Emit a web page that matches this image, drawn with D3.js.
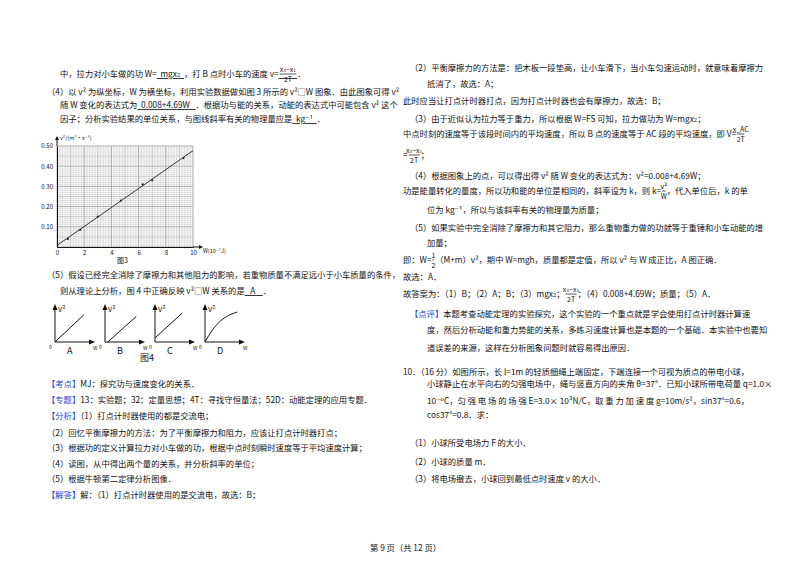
<!DOCTYPE html>
<html><head><meta charset="utf-8">
<script src="https://cdn.jsdelivr.net/npm/d3@7"></script>
<style>
body{margin:0;background:#fff}
text{font-family:"Noto Sans CJK SC","DejaVu Serif",serif;font-size:8.3px;fill:#111;white-space:pre}
.u{text-decoration:underline}
.b{fill:#1f3fd0}
</style></head><body>
<svg id="page" width="800" height="565"></svg>
<script>
// 图3 数据点 (W, v^2)
var wVals=[0.8,1.7,3.0,4.7,6.3,7.0,9.3];
var v2Vals=[0.04,0.085,0.15,0.23,0.31,0.33,0.44];
var fitLine=[[0,0.008],[10,0.477]];
var xTicks=[0,2,4,6,8,10];
var yTicks=[0.1,0.2,0.3,0.4,0.5];
var figLabels=['A','B','C','D'];

var svg=d3.select('#page');
var F1=['x₃−x₁','2T'];
// 文本行: [x, y, 片段]  片段 [text, class, 分式]
var lines=[
 [60,77,[['中，拉力对小车做的功 W='],['  mgx₂  ','u'],['，打 B 点时小车的速度 v='],['          ','u',F1],['．']]],
 [47,95,[['（4）以 v² 为纵坐标，W 为横坐标，利用实验数据做如图 3 所示的 v²□W 图象．由此图象可得 v²']]],
 [60,108,[['随 W 变化的表达式为'],['  0.008+4.69W   ','u'],['．根据功与能的关系，动能的表达式中可能包含 v² 这个']]],
 [60,122,[['因子；分析实验结果的单位关系，与图线斜率有关的物理量应是'],['  kg⁻¹  ','u'],['．']]],
 [47,278,[['（5）假设已经完全消除了摩擦力和其他阻力的影响，若重物质量不满足远小于小车质量的条件，']]],
 [60,294,[['则从理论上分析，图 4 中正确反映 v²□W 关系的是'],['   A    ','u'],['．']]],
 [47,387,[['【考点】','b'],['MJ：探究功与速度变化的关系．']]],
 [47,403,[['【专题】','b'],['13：实验题；32：定量思想；4T：寻找守恒量法；52D：动能定理的应用专题．']]],
 [47,419,[['【分析】','b'],['（1）打点计时器使用的都是交流电；']]],
 [47,436,[['（2）回忆平衡摩擦力的方法：为了平衡摩擦力和阻力，应该让打点计时器打点；']]],
 [47,451,[['（3）根据功的定义计算拉力对小车做的功，根据中点时刻瞬时速度等于平均速度计算；']]],
 [47,467,[['（4）读图，从中得出两个量的关系，并分析斜率的单位；']]],
 [47,482,[['（5）根据牛顿第二定律分析图像．']]],
 [47,498,[['【解答】','b'],['解：（1）打点计时器使用的是交流电，故选：B；']]],
 [410,71,[['（2）平衡摩擦力的方法是：把木板一段垫高，让小车滑下，当小车匀速运动时，就意味着摩擦力']]],
 [427,87,[['抵消了，故选：A；']]],
 [403,104,[['此时应当让打点计时器打点，因为打点计时器也会有摩擦力，故选：B；']]],
 [410,122,[['（3）由于近似认为拉力等于重力，所以根据 W=FS 可知，拉力做功为 W=mgx₂；']]],
 [403,137,[['中点时刻的速度等于该段时间内的平均速度，所以 B 点的速度等于 AC 段的平均速度，即 V='],['     ',null,['x_AC','2T']]]],
 [403,158,[['='],['       ',null,F1],['；']]],
 [410,179,[['（4）根据图象上的点，可以得出得 v² 随 W 变化的表达式为：v²=0.008+4.69W；']]],
 [403,194,[['功是能量转化的量度，所以功和能的单位是相同的，斜率设为 k，则 k='],['   ',null,['v²','W']],['，代入单位后，k 的单']]],
 [427,213,[['位为 kg⁻¹，所以与该斜率有关的物理量为质量；']]],
 [410,231,[['（5）如果实验中完全消除了摩擦力和其它阻力，那么重物重力做的功就等于重锤和小车动能的增']]],
 [427,246,[['加量；']]],
 [403,263,[['即：W='],['  ',null,['1','2']],['（M+m）v²，期中 W=mgh，质量都是定值，所以 v² 与 W 成正比，A 图正确．']]],
 [403,280,[['故选：A．']]],
 [403,297,[['故答案为：（1）B；（2）A；B；（3）mgx₂；'],['       ',null,F1],['；（4）0.008+4.69W；质量；（5）A．']]],
 [410,317,[['【点评】','b'],['本题考查动能定理的实验探究，这个实验的一个重点就是学会使用打点计时器计算速']]],
 [427,333,[['度，然后分析动能和重力势能的关系，多练习速度计算也是本题的一个基础．本实验中也要知']]],
 [427,351,[['道误差的来源，这样在分析图象问题时就容易得出原因．']]],
 [403,375,[['10．（16 分）如图所示，长 l=1m 的轻质细绳上端固定，下端连接一个可视为质点的带电小球，']]],
 [427,387,[['小球静止在水平向右的匀强电场中，绳与竖直方向的夹角 θ=37°．已知小球所带电荷量 q=1.0×']]],
 [427,404,[['10⁻⁶C，匀 强 电 场 的 场 强 E=3.0× 10³N/C，取 重 力 加 速 度 g=10m/s²，sin37°=0.6，']]],
 [427,418,[['cos37°=0.8．求：']]],
 [410,446,[['（1）小球所受电场力 F 的大小．']]],
 [410,465,[['（2）小球的质量 m．']]],
 [410,482,[['（3）将电场撤去，小球回到最低点时速度 v 的大小．']]],
 [370,551,[['第 9 页（共 12 页）']]]
];
// 分式
function frac(x,y,top,bot,w){
  svg.append('text').attr('x',x+w/2).attr('y',y-2).attr('text-anchor','middle').style('font-size','7px').text(top);
  svg.append('line').attr('x1',x).attr('x2',x+w).attr('y1',y).attr('y2',y).attr('stroke','#111').attr('stroke-width',0.7);
  svg.append('text').attr('x',x+w/2).attr('y',y+8).attr('text-anchor','middle').style('font-size','7px').text(bot);
}
lines.forEach(function(l){
  var t=svg.append('text').attr('x',l[0]).attr('y',l[1]);
  l[2].forEach(function(s){
    var sp=t.append('tspan').attr('class',s[1]||null).text(s[0]);
    if(s[2]){
      var n=sp.node(), x0=n.getStartPositionOfChar(0).x, w=n.getComputedTextLength();
      frac(x0+1,l[1]-3,s[2][0],s[2][1],w-2);
    }
  });
});

// 图3
var g=svg.append('g');
var x=d3.scaleLinear().domain([0,10]).range([57,193]);
var y=d3.scaleLinear().domain([0,0.5]).range([247,146]);
var minor=d3.range(0,51), minorY=d3.range(0,51);
g.selectAll('.mx').data(minor).enter().append('line').attr('x1',function(d){return x(d/5);}).attr('x2',function(d){return x(d/5);})
 .attr('y1',y(0)).attr('y2',y(0.5))
 .attr('stroke','#999').attr('stroke-width',function(d){return d%10==0?0.8:(d%5==0?0.5:0.25);});
g.selectAll('.my').data(minorY).enter().append('line').attr('y1',function(d){return y(d/100);}).attr('y2',function(d){return y(d/100);})
 .attr('x1',x(0)).attr('x2',x(10))
 .attr('stroke','#999').attr('stroke-width',function(d){return d%10==0?0.8:(d%5==0?0.5:0.25);});
g.append('g').attr('transform','translate(0,'+y(0)+')').call(d3.axisBottom(x).tickValues(xTicks).tickSize(0).tickPadding(4))
 .call(function(a){a.select('.domain').attr('stroke','#111');a.selectAll('text').style('font-size','6px');});
g.append('g').attr('transform','translate('+x(0)+',0)').call(d3.axisLeft(y).tickValues(yTicks).tickSize(0).tickPadding(4))
 .call(function(a){a.select('.domain').attr('stroke','#111');a.selectAll('text').style('font-size','6px');});
g.append('line').attr('x1',x(10)).attr('x2',x(10)+8).attr('y1',y(0)).attr('y2',y(0)).attr('stroke','#111');
g.append('path').attr('d','M'+(x(10)+10)+','+y(0)+'l-4,-2v4z').attr('fill','#111');
g.append('line').attr('x1',x(0)).attr('x2',x(0)).attr('y1',y(0.5)).attr('y2',y(0.5)-8).attr('stroke','#111');
g.append('path').attr('d','M'+x(0)+','+(y(0.5)-10)+'l-2,4h4z').attr('fill','#111');
g.append('text').attr('x',x(10)+10).attr('y',y(0)+6).style('font-size','5.5px').text('W(10⁻¹J)');
g.append('text').attr('x',x(0)+3).attr('y',y(0.5)-6).style('font-size','5.5px').text('v²/(m²·s⁻²)');
g.append('path').datum(fitLine).attr('d',d3.line().x(function(d){return x(d[0]);}).y(function(d){return y(d[1]);}))
 .attr('stroke','#222').attr('stroke-width',0.9).attr('fill','none');
g.selectAll('.pt').data(wVals).enter().append('circle').attr('cx',function(d){return x(d);}).attr('cy',function(d,i){return y(v2Vals[i]);})
 .attr('r',1.1).attr('fill','#222');
g.append('text').attr('x',117).attr('y',263).style('font-size','7px').text('图3');

// 图4
var fx=d3.scaleLinear().domain([0,1]).range([0,34]);
var fy=d3.scaleLinear().domain([0,1]).range([0,-34]);
figLabels.forEach(function(lab,i){
  var ox=55+i*50, oy=342;
  var f=svg.append('g').attr('transform','translate('+ox+','+oy+')');
  f.append('line').attr('x1',0).attr('x2',36).attr('y1',0).attr('y2',0).attr('stroke','#111');
  f.append('path').attr('d','M40,0l-6,-2.5v5z').attr('fill','#111');
  f.append('line').attr('x1',0).attr('x2',0).attr('y1',0).attr('y2',-34).attr('stroke','#111');
  f.append('path').attr('d','M0,-38l-2.5,6h5z').attr('fill','#111');
  f.append('text').attr('x',3).attr('y',-30).style('font-size','8px').text('v²');
  f.append('text').attr('x',-6).attr('y',7).style('font-size','5px').text('0');
  f.append('text').attr('x',38).attr('y',8).style('font-size','5px').text('W');
  f.append('text').attr('x',12).attr('y',12).style('font-size','9px').text(lab);
  var pts;
  if(i==0) pts=[[0,0],[0.85,0.8]];
  else if(i==1) pts=[[0.08,0],[0.92,0.75]];
  else if(i==2) pts=[[0,0.12],[0.8,0.85]];
  else pts=[[0,0],[0.2,0.35],[0.45,0.63],[0.7,0.8],[0.95,0.88]];
  f.append('path').datum(pts).attr('d',d3.line().x(function(d){return fx(d[0]);}).y(function(d){return fy(d[1]);}).curve(d3.curveBasis))
   .attr('stroke','#111').attr('fill','none');
});
svg.append('text').attr('x',140).attr('y',361).style('font-size','9px').text('图4');
</script></body></html>
